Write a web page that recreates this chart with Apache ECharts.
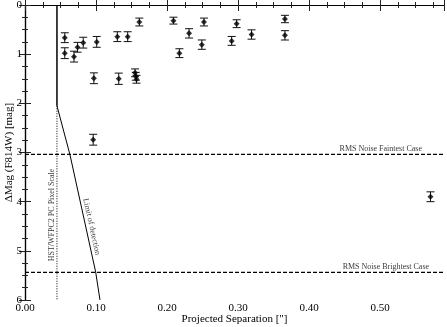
<!DOCTYPE html>
<html>
<head>
<meta charset="utf-8">
<script src="https://cdn.jsdelivr.net/npm/echarts@6/dist/echarts.min.js"></script>
<style>html,body{margin:0;padding:0;background:#fff}#c{width:447px;height:327px}</style>
</head>
<body>
<div id="c"></div>
<script>
// ---- data ----
var sepValues = [0.056, 0.056, 0.069, 0.074, 0.082, 0.101, 0.097, 0.096, 0.130, 0.1446, 0.132, 0.161, 0.155, 0.156, 0.157, 0.209, 0.2174, 0.231, 0.252, 0.249, 0.291, 0.298, 0.319, 0.366, 0.366, 0.571];
var magValues = [0.665, 0.98, 1.05, 0.86, 0.766, 0.75, 1.49, 2.74, 0.644, 0.644, 1.50, 0.346, 1.38, 1.45, 1.51, 0.318, 0.98, 0.577, 0.346, 0.806, 0.73, 0.38, 0.60, 0.285, 0.617, 3.90];
var magErrors = [0.10, 0.11, 0.11, 0.10, 0.11, 0.11, 0.11, 0.11, 0.10, 0.10, 0.115, 0.08, 0.08, 0.08, 0.08, 0.07, 0.09, 0.095, 0.08, 0.095, 0.09, 0.08, 0.095, 0.075, 0.095, 0.10];
var xTickLabels = ['0.00', '0.10', '0.20', '0.30', '0.40', '0.50'];
var yTickLabels = ['0', '1', '2', '3', '4', '5', '6'];
var pixelScaleSolid = [[0.045, 0], [0.045, 2.05]];
var pixelScaleDotted = [[0.045, 2.05], [0.045, 6]];
var limitCurve = [[0.045, 2.05], [0.0634, 3.05], [0.0995, 5.43], [0.1056, 6.0]];
var rmsFaintest = 3.04;
var rmsBrightest = 5.44;
var annotations = [
  {name: 'RMS Noise Faintest Case', value: [0.559, 2.93]},
  {name: 'RMS Noise Brightest Case', value: [0.569, 5.33]},
  {name: 'HST/WFPC2 PC Pixel Scale', value: [0.038, 4.27]},
  {name: 'Limit of detection', value: [0.0937, 4.51]}
];

var serif = '"Liberation Serif", "DejaVu Serif", serif';
var pts = sepValues.map(function (x, i) { return [x, magValues[i], magErrors[i]]; });

var chart = echarts.init(document.getElementById('c'), null, {renderer: 'canvas'});
function axisBase() {
  return {
    axisLine: {show: true, lineStyle: {color: '#000', width: 1.2}},
    axisTick: {show: true, inside: true, length: 6, lineStyle: {color: '#222', width: 1}},
    minorTick: {show: true, splitNumber: 4, length: 3, lineStyle: {color: '#222', width: 1}},
    splitLine: {show: false}
  };
}
var xb = axisBase(), xt = axisBase(), yl = axisBase(), yr = axisBase();
var option = {
  animation: false,
  backgroundColor: '#fff',
  grid: {left: 25, right: 3, top: 5, bottom: 27, containLabel: false, outerBoundsMode: 'none'},
  xAxis: [
    Object.assign(xb, {
      type: 'value', min: 0, max: 0.59, interval: 0.1, position: 'bottom',
      name: 'Projected Separation ["]', nameLocation: 'middle', nameGap: 14, nameMoveOverlap: false,
      nameTextStyle: {fontFamily: serif, fontSize: 11, color: '#000'},
      axisLabel: {show: true, showMaxLabel: false, margin: 3, fontFamily: serif, fontSize: 11, color: '#000',
        formatter: function (v) { var i = Math.round(v * 10); return xTickLabels[i] !== undefined ? xTickLabels[i] : ''; }}
    }),
    Object.assign(xt, {
      type: 'value', min: 0, max: 0.59, interval: 0.1, position: 'top', axisLabel: {show: false}
    })
  ],
  yAxis: [
    Object.assign(yl, {
      type: 'value', min: 0, max: 6, interval: 1, inverse: true, position: 'left',
      name: 'ΔMag (F814W) [mag]', nameLocation: 'middle', nameGap: 10, nameMoveOverlap: false,
      nameTextStyle: {fontFamily: serif, fontSize: 11, color: '#000'},
      axisLabel: {show: true, margin: 3, fontFamily: serif, fontSize: 11, color: '#000',
        formatter: function (v) { return yTickLabels[Math.round(v)]; }}
    }),
    Object.assign(yr, {
      type: 'value', min: 0, max: 6, interval: 1, inverse: true, position: 'right', axisLabel: {show: false}
    })
  ],
  series: [
    {type: 'line', data: pixelScaleSolid, symbol: 'none', lineStyle: {color: '#000', width: 1.5}, silent: true},
    {type: 'line', data: pixelScaleDotted, symbol: 'none', lineStyle: {color: '#000', width: 1, type: [1, 1.5]}, silent: true},
    {type: 'line', data: limitCurve, symbol: 'none', lineStyle: {color: '#000', width: 1}, silent: true},
    {type: 'line', data: [[0, rmsFaintest], [0.59, rmsFaintest]], symbol: 'none', lineStyle: {color: '#000', width: 1.2, type: [4, 2]}, silent: true},
    {type: 'line', data: [[0, rmsBrightest], [0.59, rmsBrightest]], symbol: 'none', lineStyle: {color: '#000', width: 1.2, type: [4, 2]}, silent: true},
    {
      type: 'custom', data: pts,
      renderItem: function (params, api) {
        var x = api.value(0), y = api.value(1), e = api.value(2);
        var top = api.coord([x, y - e]), bot = api.coord([x, y + e]);
        var hw = 4;
        var st = {stroke: '#111', lineWidth: 1};
        return {type: 'group', children: [
          {type: 'line', shape: {x1: top[0], y1: top[1], x2: bot[0], y2: bot[1]}, style: st},
          {type: 'line', shape: {x1: top[0] - hw, y1: top[1], x2: top[0] + hw, y2: top[1]}, style: st},
          {type: 'line', shape: {x1: bot[0] - hw, y1: bot[1], x2: bot[0] + hw, y2: bot[1]}, style: st}
        ]};
      }
    },
    {type: 'scatter', data: pts.map(function (p) { return [p[0], p[1]]; }), symbol: 'diamond', symbolSize: 6, itemStyle: {color: '#000'}},
    {
      type: 'scatter', symbolSize: 0,
      data: [
        {value: annotations[0].value, name: annotations[0].name, label: {align: 'right'}},
        {value: annotations[1].value, name: annotations[1].name, label: {align: 'right'}},
        {value: annotations[2].value, name: annotations[2].name, label: {align: 'center', rotate: 90}},
        {value: annotations[3].value, name: annotations[3].name, label: {align: 'center', rotate: -77.6}}
      ],
      label: {show: true, position: [0, 0], verticalAlign: 'middle', formatter: '{b}', fontFamily: serif, fontSize: 8, color: '#000'}
    }
  ]
};
chart.setOption(option);
</script>
</body>
</html>
